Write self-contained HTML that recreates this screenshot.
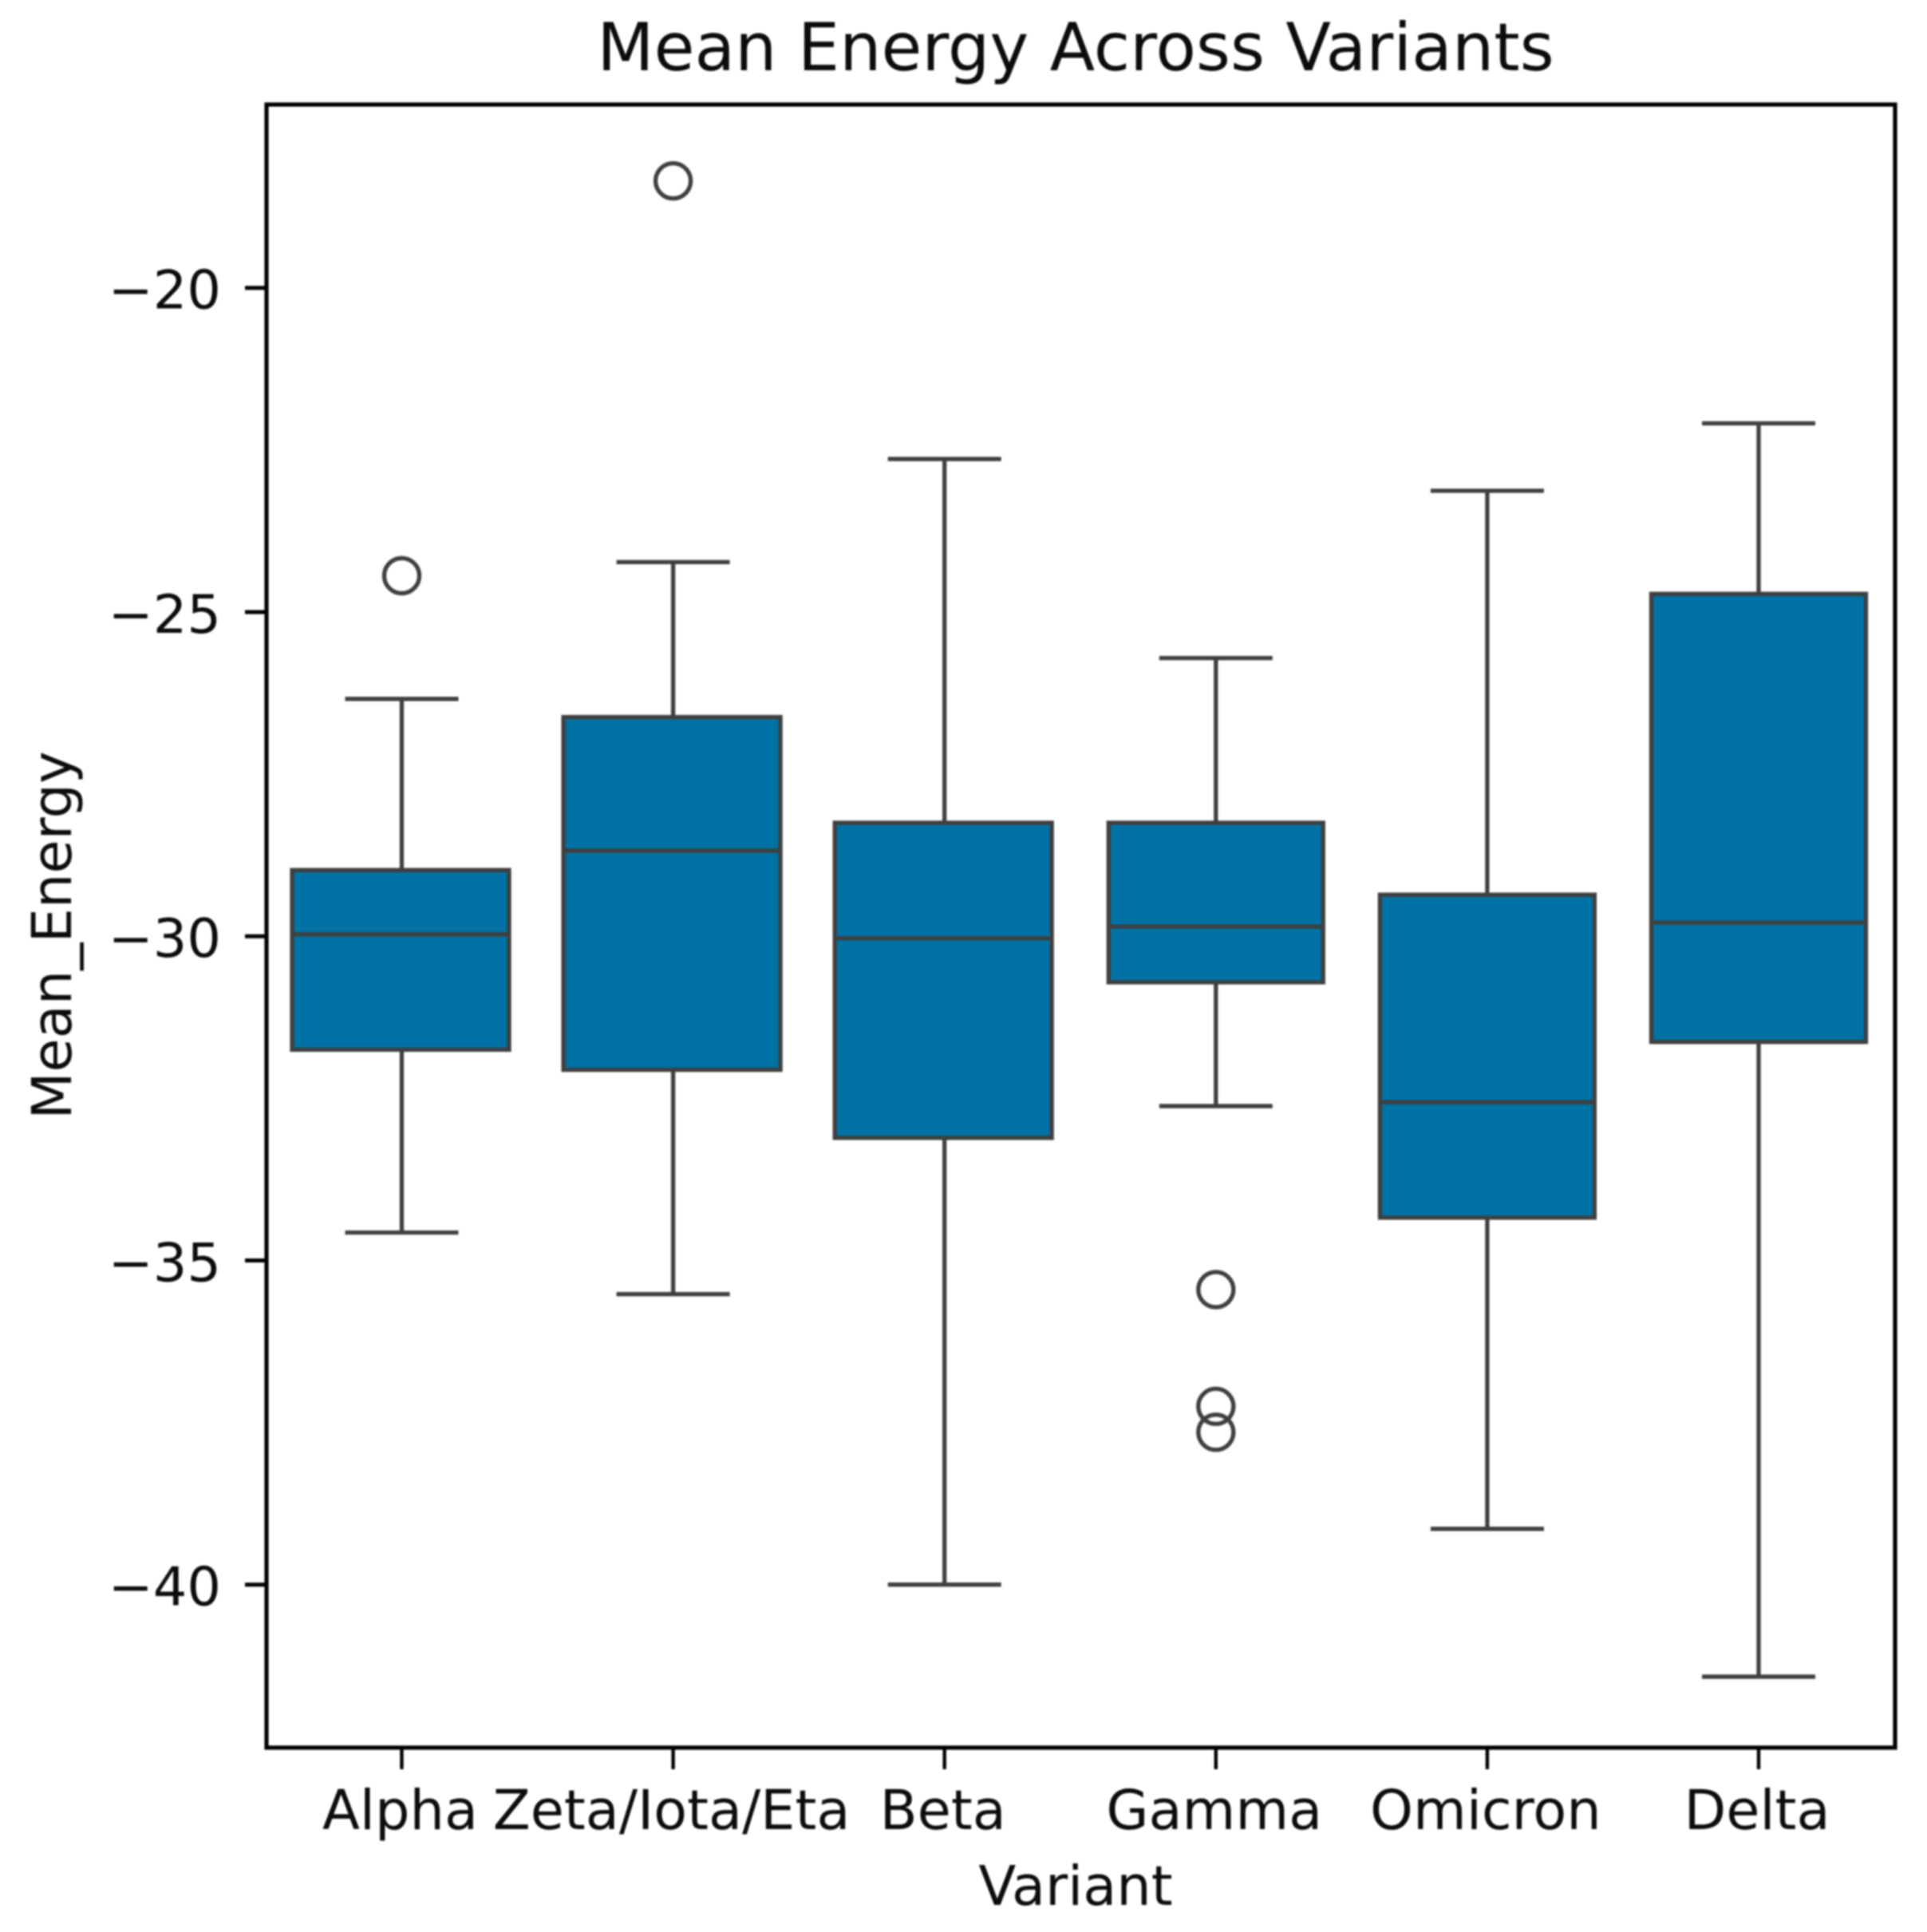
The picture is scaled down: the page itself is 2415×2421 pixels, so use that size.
<!DOCTYPE html>
<html>
<head>
<meta charset="utf-8">
<title>Mean Energy Across Variants</title>
<style>
html,body{margin:0;padding:0;background:#fff;width:2415px;height:2421px;overflow:hidden}
svg{display:block;filter:blur(1.1px)}
text{font-family:"DejaVu Sans","Liberation Sans",sans-serif;fill:#0c0c0c}
</style>
</head>
<body>
<svg id="chart" xmlns="http://www.w3.org/2000/svg" width="2415" height="2421" viewBox="0 0 2415 2421">
<rect x="0" y="0" width="2415" height="2421" fill="#fff"/>
<text x="1348" y="88" text-anchor="middle" font-size="82.7">Mean Energy Across Variants</text>
<text x="1348" y="2387" text-anchor="middle" font-size="68.6">Variant</text>
<text transform="translate(89,1172) rotate(-90)" text-anchor="middle" font-size="68.6">Mean_Energy</text>
</svg>
<script>
const categories = ['Alpha', 'Zeta/Iota/Eta', 'Beta', 'Gamma', 'Omicron', 'Delta'];
const whiskerHigh = [-26.34, -24.23, -22.64, -25.71, -23.13, -22.09];
const quartile3 = [-28.98, -26.62, -28.25, -28.25, -29.36, -24.72];
const medians = [-29.97, -28.68, -30.03, -29.85, -32.56, -29.79];
const quartile1 = [-31.75, -32.06, -33.11, -30.71, -34.34, -31.63];
const whiskerLow = [-34.57, -35.52, -40.00, -32.62, -39.14, -41.42];
const outliers = [[-24.44], [-18.35], [], [-35.45, -37.25, -37.65], [], []];
const yTicks = [-20, -25, -30, -35, -40];

const svg = document.getElementById('chart');
const NS = 'http://www.w3.org/2000/svg';
const plot = { left: 334, right: 2375, top: 131, bottom: 2190 };
const ink = '#3f3f3f';
const xScale = function (i) { return 503.5 + i * 340.1; };
const yScale = function (v) { return 360.7 + (-20 - v) * 81.25; };

function make(tag, attrs, parent) {
  const el = document.createElementNS(NS, tag);
  Object.keys(attrs).forEach(function (k) { el.setAttribute(k, attrs[k]); });
  (parent || svg).appendChild(el);
  return el;
}
function slug(s) { return s.toLowerCase().replace(/[^a-z0-9]+/g, '-'); }

categories.forEach(function (cat, i) {
  const cx = xScale(i);
  const hw = 134.5;
  const leftPad = i < 3 ? 3 : 0;
  const capHw = 71;
  const sw = 5.3;
  const id = slug(cat);
  const group = make('g', {});
  
  

  const upper = make('line', { x1: cx, x2: cx, y1: yScale(whiskerHigh[i]), y2: yScale(quartile3[i]), stroke: ink, 'stroke-width': sw }, group);
  
  

  const lower = make('line', { x1: cx, x2: cx, y1: yScale(quartile1[i]), y2: yScale(whiskerLow[i]), stroke: ink, 'stroke-width': sw }, group);
  
  

  const capTop = make('line', { x1: cx - capHw, x2: cx + capHw, y1: yScale(whiskerHigh[i]), y2: yScale(whiskerHigh[i]), stroke: ink, 'stroke-width': sw }, group);
  
  

  const capBottom = make('line', { x1: cx - capHw, x2: cx + capHw, y1: yScale(whiskerLow[i]), y2: yScale(whiskerLow[i]), stroke: ink, 'stroke-width': sw }, group);
  
  

  const box = make('rect', { x: cx - hw - leftPad, y: yScale(quartile3[i]), width: hw * 2 + leftPad, height: yScale(quartile1[i]) - yScale(quartile3[i]), fill: '#0072a5', stroke: ink, 'stroke-width': sw }, group);
  
  

  const med = make('line', { x1: cx - hw - leftPad, x2: cx + hw, y1: yScale(medians[i]), y2: yScale(medians[i]), stroke: ink, 'stroke-width': sw }, group);
  
  

  outliers[i].forEach(function (v, j) {
    const o = make('circle', { cx: cx, cy: yScale(v), r: 22, fill: 'none', stroke: ink, 'stroke-width': 5.3 }, group);
    
    
  });

  const tick = make('line', { x1: cx, x2: cx, y1: plot.bottom, y2: plot.bottom + 27, stroke: '#000', 'stroke-width': 4.4 });
  
  

  const label = make('text', { x: cx - 2, y: 2292, 'text-anchor': 'middle', 'font-size': 68.6 });
  label.textContent = cat;
  
  
});

yTicks.forEach(function (v) {
  const y = yScale(v);
  const tick = make('line', { x1: plot.left - 27, x2: plot.left, y1: y, y2: y, stroke: '#000', 'stroke-width': 5 });
  
  

  const label = make('text', { x: 277, y: y + 26, 'text-anchor': 'end', 'font-size': 67 });
  label.textContent = '\u2212' + Math.abs(v);
  
  
});

const frame = make('rect', { x: plot.left, y: plot.top, width: plot.right - plot.left, height: plot.bottom - plot.top, fill: 'none', stroke: '#000', 'stroke-width': 5.2 });


</script>
</body>
</html>
